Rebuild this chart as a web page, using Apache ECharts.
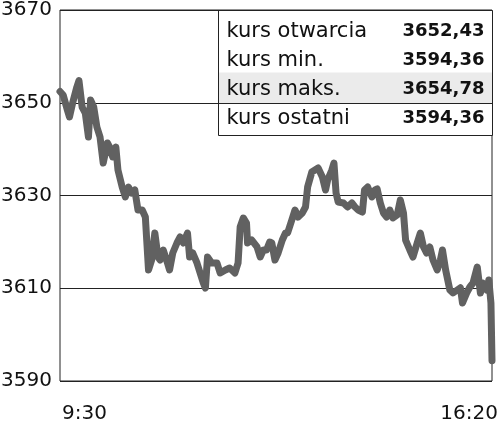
<!DOCTYPE html>
<html>
<head>
<meta charset="utf-8">
<script src="https://cdn.jsdelivr.net/npm/echarts@6/dist/echarts.min.js"></script>
<style>
  html, body { margin: 0; padding: 0; background: #fff; }
  #chart { width: 500px; height: 425px; }
</style>
</head>
<body>
<div id="chart"></div>
<script>
// minutes after 9:30 and index value
const minutes = [0, 3, 7, 9, 12, 16, 18, 21, 24, 27, 29, 32, 35, 38, 41, 45, 47, 50, 53, 55, 59, 62, 65, 68, 71, 74, 78, 81, 84, 87, 90, 93,
  95, 98, 102, 104, 107, 111, 114, 117, 121, 123, 126, 130, 133, 136, 138, 140, 144, 149, 152, 157, 161, 166, 169, 171, 174, 177, 178, 182, 187, 190, 193, 196, 199,
  201, 204, 207, 211, 214, 216, 220, 223, 226, 230, 233, 235, 239, 242, 245, 249, 252, 254, 258, 260, 262, 264, 269, 273, 277, 280, 283, 287, 289, 292, 296, 299,
  301, 304, 307, 310, 313, 316, 320, 323, 326, 328, 332, 335, 339, 342, 345, 348, 351, 354, 358, 361, 363, 366, 370, 373, 377, 380, 382, 386, 389, 392, 396, 399, 401, 405, 407, 409, 410];
const values = [3652.43, 3651.67, 3648.44, 3646.93, 3649.95, 3653.40, 3654.78, 3649.08, 3647.79, 3642.62, 3650.59, 3649.08, 3644.77, 3642.62, 3637.01, 3641.32, 3640.46, 3638.30, 3640.46, 3635.50, 3631.83, 3629.68, 3631.83, 3630.54, 3631.19, 3626.87, 3626.87, 3625.36, 3613.94, 3616.09, 3621.91, 3616.74,
  3616.09, 3618.25, 3615.45, 3613.94, 3617.60, 3619.76, 3621.05, 3619.76, 3621.91, 3616.74, 3617.60, 3615.45, 3613.29, 3611.13, 3610.05, 3616.74, 3615.45, 3615.45, 3613.29, 3613.94, 3614.37, 3613.29, 3615.45, 3623.21, 3625.15, 3624.07, 3619.76, 3620.40, 3618.90, 3616.74, 3618.25, 3618.25, 3619.97,
  3619.76, 3616.09, 3617.60, 3620.40, 3621.91, 3621.91, 3624.72, 3626.87, 3625.36, 3626.23, 3627.52, 3631.83, 3635.07, 3635.50, 3635.93, 3633.99, 3631.19, 3633.34, 3635.50, 3637.01, 3630.54, 3628.60, 3628.38, 3627.52, 3628.38, 3627.52, 3626.87, 3626.44, 3631.19, 3631.83, 3629.68, 3631.19,
  3631.40, 3628.38, 3626.23, 3625.36, 3626.87, 3625.15, 3625.80, 3629.03, 3626.23, 3620.40, 3618.25, 3616.74, 3619.76, 3621.91, 3618.90, 3617.60, 3618.90, 3616.09, 3613.94, 3616.09, 3618.25, 3613.94, 3609.62, 3608.98, 3609.62, 3610.10, 3606.82, 3608.98, 3610.27, 3611.13, 3614.58, 3608.98, 3611.13, 3609.62, 3611.78, 3606.82, 3594.36];

const startMinute = 9 * 60 + 30;
const sessionLength = 410;
const yTicks = [3590, 3610, 3630, 3650, 3670];

const tableLabels = ['kurs otwarcia', 'kurs min.', 'kurs maks.', 'kurs ostatni'];
const tableValues = ['3652,43', '3594,36', '3654,78', '3594,36'];

const fontName = 'DejaVu Sans';

function fmtTime(m) {
  const total = startMinute + m;
  const h = Math.floor(total / 60);
  const mm = total % 60;
  return h + ':' + (mm < 10 ? '0' + mm : mm);
}

const chart = echarts.init(document.getElementById('chart'));

// table in the upper right corner
const rowTop = 10, rowH = 29, tableLeft = 218, tableW = 274;
const tableItems = [
  { type: 'rect', shape: { x: 0, y: 0, width: tableW, height: 125 }, style: { fill: '#fff', stroke: '#222', lineWidth: 1 } },
  { type: 'rect', shape: { x: 0.5, y: 62, width: tableW - 1, height: 31 }, style: { fill: '#ebebeb' } }
];
tableLabels.forEach((lab, i) => {
  const cy = 21 + i * rowH;
  tableItems.push({ type: 'text', x: 8, y: cy, style: { text: lab, fontFamily: fontName, fontSize: 21, fill: '#111', textVerticalAlign: 'middle' } });
  tableItems.push({ type: 'text', x: 266, y: cy, style: { text: tableValues[i], fontFamily: fontName, fontSize: 18, fontWeight: 'bold', fill: '#111', textAlign: 'right', textVerticalAlign: 'middle' } });
});

chart.setOption({
  animation: false,
  backgroundColor: '#fff',
  grid: {
    left: 60, right: 8, top: 10, bottom: 44,
    outerBoundsMode: 'none',
    show: true, borderColor: '#222', borderWidth: 1
  },
  xAxis: {
    type: 'value',
    min: 0,
    max: sessionLength,
    interval: sessionLength,
    axisLine: { show: false },
    axisTick: { show: false },
    splitLine: { show: false },
    axisLabel: {
      formatter: fmtTime,
      fontFamily: fontName,
      fontSize: 20,
      color: '#111',
      margin: 23,
      alignMinLabel: 'left',
      alignMaxLabel: 'right',
      padding: [0, -6, 0, 2]
    }
  },
  yAxis: {
    type: 'value',
    min: yTicks[0],
    max: yTicks[yTicks.length - 1],
    interval: 20,
    axisLine: { show: false },
    axisTick: { show: false },
    splitLine: { lineStyle: { color: '#222', width: 1 } },
    axisLabel: { formatter: v => String(v), fontFamily: fontName, fontSize: 20, color: '#111', margin: 8 }
  },
  graphic: [{ type: 'group', left: tableLeft, top: rowTop, z: 100, children: tableItems }],
  series: [{
    type: 'line',
    data: minutes.map((m, i) => [m, values[i]]),
    showSymbol: false,
    lineStyle: { color: '#616161', width: 7, cap: 'round', join: 'round' }
  }]
});
</script>
</body>
</html>
